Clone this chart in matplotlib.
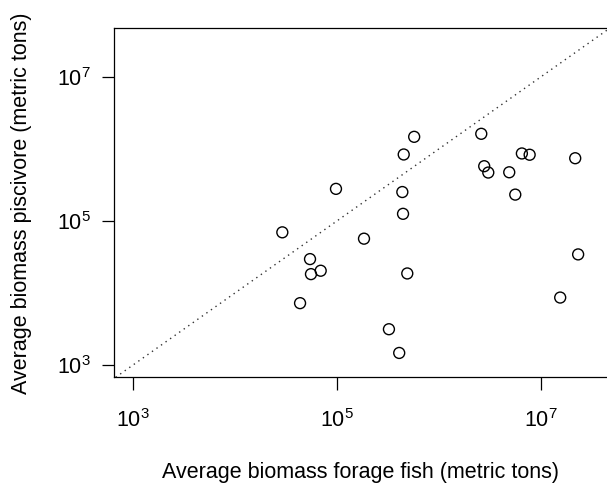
import matplotlib
matplotlib.use("Agg")
import matplotlib.pyplot as plt
from matplotlib.ticker import FixedLocator, NullLocator

plt.rcParams['font.family'] = ['Liberation Sans', 'DejaVu Sans']
plt.rcParams['mathtext.fontset'] = 'custom'
plt.rcParams['mathtext.rm'] = 'Liberation Sans'
plt.rcParams['mathtext.it'] = 'Liberation Sans:italic'
plt.rcParams['mathtext.bf'] = 'Liberation Sans:bold'

forage = [5.75e5, 2.62e6, 4.54e5, 6.56e6, 7.82e6, 2.19e7, 2.80e6, 3.07e6,
          4.93e6, 9.82e4, 4.40e5, 5.65e6, 4.47e5, 2.92e4, 1.85e5, 5.46e4,
          2.34e7, 5.58e4, 6.95e4, 4.92e5, 1.56e7, 4.36e4, 3.25e5, 4.10e5]
piscivore = [1.48e6, 1.63e6, 8.41e5, 8.69e5, 8.34e5, 7.46e5, 5.78e5, 4.72e5,
             4.76e5, 2.80e5, 2.53e5, 2.33e5, 1.26e5, 6.97e4, 5.69e4, 2.96e4,
             3.44e4, 1.83e4, 2.04e4, 1.87e4, 8.65e3, 7.23e3, 3.14e3, 1.47e3]
ticks = [1e3, 1e5, 1e7]
tick_labels = [r'$10^{3}$', r'$10^{5}$', r'$10^{7}$']

W, H = 607, 484
fig = plt.figure(figsize=(W / 100, H / 100), dpi=100)
left, right, top, bottom = 114.3, 609.8, 28.3, 377.3
ax = fig.add_axes([left / W, (H - bottom) / H, (right - left) / W, (bottom - top) / H])

ax.scatter(forage, piscivore, s=62, facecolors='none', edgecolors='black',
           linewidths=1.0, zorder=3)
ax.axline((1e3, 1e3), (1e7, 1e7), color='#333333', linestyle=(0, (1, 3)),
          linewidth=1.0, zorder=2)

ax.set_xscale('log')
ax.set_yscale('log')
ax.set_xlim(10 ** 2.816, 10 ** 7.68)
ax.set_ylim(10 ** 2.829, 10 ** 7.678)

for axis in (ax.xaxis, ax.yaxis):
    axis.set_major_locator(FixedLocator(ticks))
    axis.set_minor_locator(NullLocator())
ax.set_xticklabels(tick_labels)
ax.set_yticklabels(tick_labels)
ax.tick_params(axis='both', direction='out', length=9, width=0.9,
               labelsize=15.5, colors='black')
ax.tick_params(axis='x', pad=14)
ax.tick_params(axis='y', pad=8)
for sp in ax.spines.values():
    sp.set_linewidth(0.9)

fig.text(361 / W, 1 - 477.7 / H, 'Average biomass forage fish (metric tons)',
         ha='center', va='baseline', fontsize=15.5)
fig.text(21.5 / W, 1 - 202.8 / H, 'Average biomass piscivore (metric tons)',
         ha='center', va='center', rotation=90, fontsize=15.5)

fig.savefig('out.png', dpi=100)
